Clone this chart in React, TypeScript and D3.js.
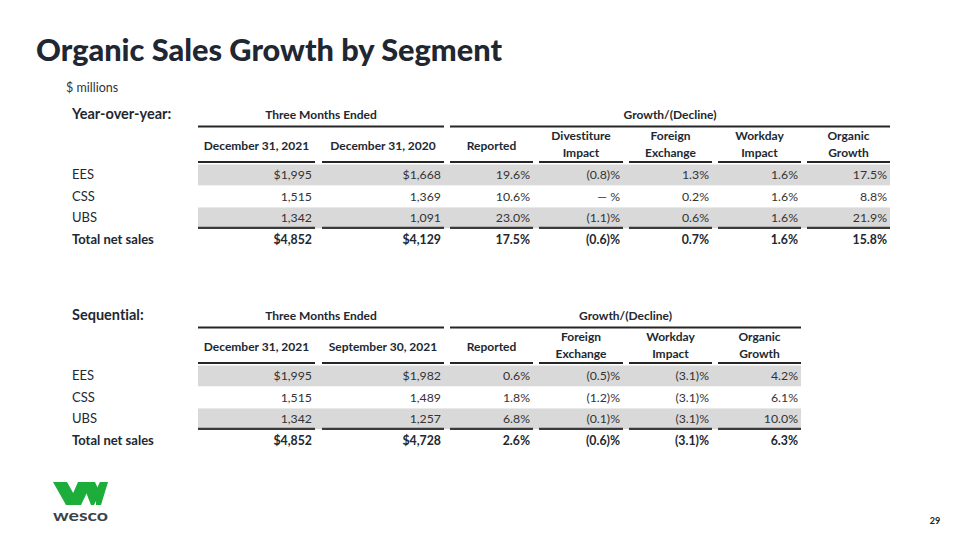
import React from "react";
import * as d3 from "d3";

const segments = ["EES", "CSS", "UBS"];
const totalLabel = "Total net sales";

// Year-over-year
const yoyHeaders = [["December 31, 2021"], ["December 31, 2020"], ["Reported"], ["Divestiture", "Impact"], ["Foreign", "Exchange"], ["Workday", "Impact"], ["Organic", "Growth"]];
const yoyDec2021 = [1995, 1515, 1342];
const yoyDec2020 = [1668, 1369, 1091];
const yoyReported = [19.6, 10.6, 23.0];
const yoyDivestiture = [-0.8, 0, -1.1];
const yoyFx = [1.3, 0.2, 0.6];
const yoyWorkday = [1.6, 1.6, 1.6];
const yoyOrganic = [17.5, 8.8, 21.9];
const yoyTotals = [4852, 4129, 17.5, -0.6, 0.7, 1.6, 15.8];

// Sequential
const seqHeaders = [["December 31, 2021"], ["September 30, 2021"], ["Reported"], ["Foreign", "Exchange"], ["Workday", "Impact"], ["Organic", "Growth"]];
const seqDec2021 = [1995, 1515, 1342];
const seqSep2021 = [1982, 1489, 1257];
const seqReported = [0.6, 1.8, 6.8];
const seqFx = [-0.5, -1.2, -0.1];
const seqWorkday = [-3.1, -3.1, -3.1];
const seqOrganic = [4.2, 6.1, 10.0];
const seqTotals = [4852, 4728, 2.6, -0.6, -3.1, 6.3];

const FONT = "Lato, 'Open Sans', sans-serif";
const TXT = "#222831";

const fmtMoney = (v: number, dollar: boolean) => (dollar ? "$" : "") + d3.format(",")(v);
const fmtPct = (v: number) => {
  if (v === 0) return "— %";
  if (v < 0) return "(" + d3.format(".1f")(-v) + ")%";
  return d3.format(".1f")(v) + "%";
};

type TableProps = {
  y0: number;
  title: string;
  headers: string[][];
  money: number[][];
  pct: number[][];
  totals: number[];
};

const colEdges = [
  [198, 315],
  [322, 444],
  [450, 533],
  [539, 623],
  [629, 712],
  [718, 801],
  [807, 890],
];

function Table({ y0, title, headers, money, pct, totals }: TableProps) {
  const nCols = headers.length;
  const cols = colEdges.slice(0, nCols);
  const rowLabels = [...segments, totalLabel];
  const rowY = d3
    .scaleBand<string>()
    .domain(rowLabels)
    .range([y0 + 50.5, y0 + 50.5 + 21.3 * 4])
    .paddingInner(0.03);
  const growthLeft = cols[2][0];
  const growthRight = cols[nCols - 1][1];
  const cellText = (ci: number, ri: number): string => {
    const isTotal = ri === 3;
    if (ci < 2) {
      const v = isTotal ? totals[ci] : money[ci][ri];
      return fmtMoney(v, isTotal || ri === 0);
    }
    const v = isTotal ? totals[ci] : pct[ci - 2][ri];
    return fmtPct(v);
  };
  return (
    <g fontFamily={FONT} fill={TXT} style={{ fontVariantLigatures: "none" }}>
      <text x={72} y={y0 + 5} fontSize={14.5} fontWeight={700}>{title}</text>
      <text x={(cols[0][0] + cols[1][1]) / 2} y={y0 + 4.5} fontSize={12} fontWeight={700} textAnchor="middle">Three Months Ended</text>
      <text x={(growthLeft + growthRight) / 2} y={y0 + 4.5} fontSize={12} fontWeight={700} textAnchor="middle">Growth/(Decline)</text>
      <line x1={cols[0][0]} x2={cols[1][1]} y1={y0 + 12.5} y2={y0 + 12.5} stroke="#262626" strokeWidth={2} />
      <line x1={growthLeft} x2={growthRight} y1={y0 + 12.5} y2={y0 + 12.5} stroke="#262626" strokeWidth={2} />
      {headers.map((h, ci) => {
        const cx = (cols[ci][0] + cols[ci][1]) / 2;
        return (
          <g key={ci}>
            {h.length === 1 ? (
              <text x={cx} y={y0 + 35.5} fontSize={12} fontWeight={700} textAnchor="middle">{h[0]}</text>
            ) : (
              h.map((line, li) => (
                <text key={li} x={cx} y={y0 + 26 + li * 17} fontSize={12} fontWeight={700} textAnchor="middle">{line}</text>
              ))
            )}
            <line x1={cols[ci][0]} x2={cols[ci][1]} y1={y0 + 48} y2={y0 + 48} stroke="#262626" strokeWidth={2} />
          </g>
        );
      })}
      {[0, 2].map((ri) => (
        <rect key={ri} x={cols[0][0]} width={cols[nCols - 1][1] - cols[0][0]} y={rowY(rowLabels[ri])} height={rowY.bandwidth()} fill="#d9d9d9" />
      ))}
      {cols.map((c, ci) => (
        <line key={"b" + ci} x1={c[0]} x2={c[1]} y1={(rowY(rowLabels[3]) as number) - 1} y2={(rowY(rowLabels[3]) as number) - 1} stroke="#3a3a3a" strokeWidth={2.4} />
      ))}
      {rowLabels.map((lab, ri) => {
        const y = (rowY(lab) as number) + rowY.bandwidth() / 2 + 4.4;
        const bold = ri === 3;
        return (
          <g key={lab}>
            <text x={72} y={y} fontSize={13} fontWeight={bold ? 700 : 400}>{lab}</text>
            {cols.map((c, ci) => (
              <text key={ci} x={c[1] - 3} y={y} fontSize={12.3} fontWeight={bold ? 700 : 400} textAnchor="end" fill={bold ? TXT : "#333"}>
                {cellText(ci, ri)}
              </text>
            ))}
          </g>
        );
      })}
    </g>
  );
}

function Logo() {
  const g = "#1cad3a";
  return (
    <g>
      <polygon points="53,482 67,482 80,505 66,505" fill={g} />
      <polygon points="68,505 81,505 92,482 78,482" fill={g} />
      <polygon points="82,482 95,482 100,493 94,505 91,505" fill={g} />
      <polygon points="96,505 101,505 108,482 100,482 96,490" fill={g} />
      <text x={80.5} y={521} textAnchor="middle" fontFamily={FONT} fontWeight={700} fontSize={15} fill="#3a414b" textLength={55} lengthAdjust="spacingAndGlyphs">wesco</text>
    </g>
  );
}

export default function App() {
  const yoyMoney = [yoyDec2021, yoyDec2020];
  const yoyPct = [yoyReported, yoyDivestiture, yoyFx, yoyWorkday, yoyOrganic];
  const seqMoney = [seqDec2021, seqSep2021];
  const seqPct = [seqReported, seqFx, seqWorkday, seqOrganic];
  return (
    <svg width={960} height={540} style={{ position: "absolute", left: 0, top: 0, background: "#fff" }}>
      <rect width={960} height={540} fill="#fff" />
      <text x={36} y={61} fontFamily={FONT} fontWeight={900} fontSize={31} fill="#1f2732" textLength={466} lengthAdjust="spacingAndGlyphs">Organic Sales Growth by Segment</text>
      <text x={66} y={92} fontFamily={FONT} fontSize={12.5} fill="#333">$ millions</text>
      <Table y0={114} title="Year-over-year:" headers={yoyHeaders} money={yoyMoney} pct={yoyPct} totals={yoyTotals} />
      <Table y0={315} title="Sequential:" headers={seqHeaders} money={seqMoney} pct={seqPct} totals={seqTotals} />
      <Logo />
      <text x={935} y={524} textAnchor="middle" fontFamily={FONT} fontWeight={700} fontSize={9} fill="#222">29</text>
    </svg>
  );
}
